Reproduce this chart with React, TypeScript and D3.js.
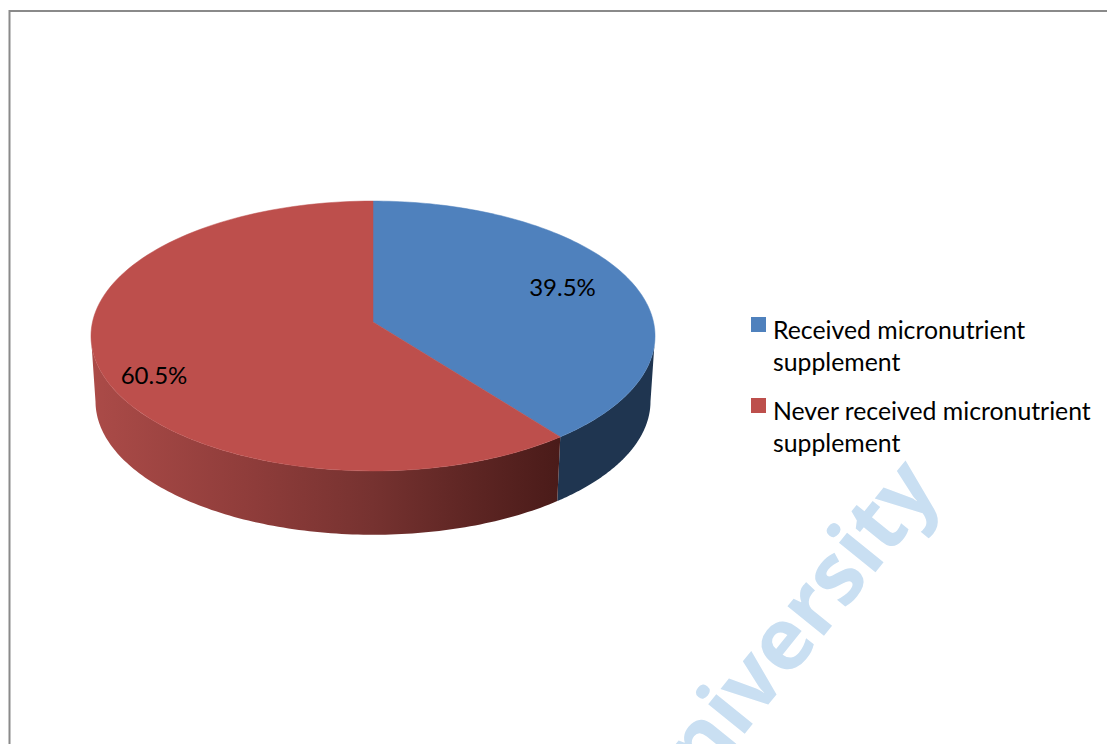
import React from "react";
import * as d3 from "d3";

const categories = ["Received micronutrient supplement", "Never received micronutrient supplement"];
const legendLines = [["Received micronutrient", "supplement"], ["Never received micronutrient", "supplement"]];
const shares = [39.5, 60.5];
const topColors = ["#4f81bd", "#bd4f4c"];
const sideColors = ["#1f3550", "url(#redSide)"];
const redSideStops: [number, string][] = [
  [0, "#ab4b48"],
  [0.35, "#8e3c3a"],
  [0.6, "#763230"],
  [0.8, "#5f2624"],
  [1, "#4a1b19"],
];

const WIDTH = 1107;
const HEIGHT = 744;

// Perspective disc: (u, v) on the unit circle, v pointing toward the viewer.
type Disc = { x0: number; y0: number; a: number; b: number; k: number };
const topDisc: Disc = { x0: 373, y0: 322, a: 280.5, b: 133.5, k: 0.1037 };
const baseDisc: Disc = { x0: 373, y0: 387.5, a: 276, b: 132, k: 0.1037 };

function project(d: Disc, angle: number): [number, number] {
  const u = Math.sin(angle);
  const v = -Math.cos(angle);
  const w = 1 - d.k * v;
  return [d.x0 + (d.a * u) / w, d.y0 + (d.b * v) / w];
}

function arcPoints(d: Disc, a0: number, a1: number): [number, number][] {
  return d3.range(0, 121).map((i) => project(d, a0 + ((a1 - a0) * i) / 120));
}

const pieLayout = d3.pie<number>().sort(null).value((v) => v);
const slices = pieLayout(shares);
const closedPath = d3.line().curve(d3.curveLinear);
// The wall is visible between the two silhouette tangents of the disc.
const FRONT_START = (96 * Math.PI) / 180;
const FRONT_END = (264 * Math.PI) / 180;

export default function App() {
  return (
    <svg
      width={WIDTH}
      height={HEIGHT}
      viewBox={`0 0 ${WIDTH} ${HEIGHT}`}
      style={{ position: "absolute", left: 0, top: 0, background: "#fff" }}
      fontFamily="Lato, 'Open Sans', sans-serif"
    >
      <defs>
        <linearGradient id="redSide" gradientUnits="userSpaceOnUse" x1={91} x2={560} y1={0} y2={0}>
          {redSideStops.map(([o, c]) => (
            <stop key={o} offset={o} stopColor={c} />
          ))}
        </linearGradient>
      </defs>

      {/* Outer frame, running off the right and bottom edges */}
      <path d={`M${WIDTH},11 H9.5 V${HEIGHT}`} fill="none" stroke="#8a8a8a" strokeWidth={2} />

      {/* Institution watermark */}
      <text
        transform="translate(942,490) rotate(-51)"
        textAnchor="end"
        fontFamily="'Open Sans', sans-serif"
        fontWeight={700}
        fontSize={86}
        fill="#c9dff2"
      >
        University
      </text>

      {/* Disc wall, front half only */}
      {slices.map((s, i) => {
        const a0 = Math.max(s.startAngle, FRONT_START);
        const a1 = Math.min(s.endAngle, FRONT_END);
        const pts = [...arcPoints(topDisc, a0, a1), ...arcPoints(baseDisc, a1, a0)];
        return <path key={categories[i]} d={closedPath(pts) + "Z"} fill={sideColors[i]} />;
      })}

      {/* Top face */}
      {slices.map((s, i) => {
        const pts: [number, number][] = [[topDisc.x0, topDisc.y0], ...arcPoints(topDisc, s.startAngle, s.endAngle)];
        return (
          <path
            key={categories[i]}
            d={closedPath(pts) + "Z"}
            fill={topColors[i]}
            stroke={topColors[i]}
            strokeWidth={0.5}
          />
        );
      })}

      {/* Value labels */}
      <text x={562.5} y={296} textAnchor="middle" fontSize={24} fill="#000">
        {shares[0].toFixed(1)}%
      </text>
      <text x={154} y={384} textAnchor="middle" fontSize={24} fill="#000">
        {shares[1].toFixed(1)}%
      </text>

      {/* Legend */}
      {legendLines.map((lines, i) => {
        const y = i === 0 ? 317 : 398;
        return (
          <g key={categories[i]}>
            <rect x={751} y={y} width={15} height={15} fill={topColors[i]} />
            {lines.map((t, j) => (
              <text key={t} x={773} y={y + 22 + j * 32} fontSize={24.8} fill="#000">
                {t}
              </text>
            ))}
          </g>
        );
      })}
    </svg>
  );
}
